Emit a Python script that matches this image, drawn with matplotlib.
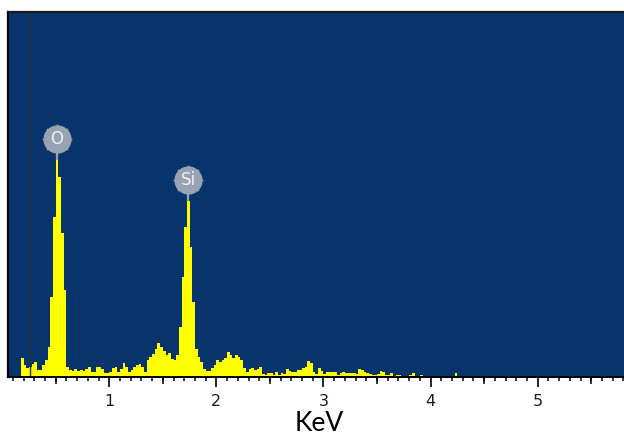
import numpy as np
import matplotlib
matplotlib.use("Agg")
import matplotlib.pyplot as plt
from matplotlib.path import Path
from matplotlib.ticker import MultipleLocator, FixedLocator, NullFormatter

# ---------------- data ----------------
bin_start_kev = 0.175
bin_width_kev = 0.025
counts = [
    19, 12, 9, 10, 13, 15, 7, 7, 12, 17,
    30, 80, 160, 217, 200, 144, 87, 10, 7, 6,
    8, 6, 7, 6, 8, 10, 5, 5, 10, 10,
    8, 4, 4, 5, 9, 10, 5, 8, 14, 10,
    5, 7, 10, 12, 13, 10, 5, 17, 20, 23,
    28, 34, 30, 26, 22, 24, 18, 17, 22, 50,
    100, 150, 176, 130, 75, 28, 20, 15, 8, 6,
    6, 9, 12, 17, 15, 17, 19, 25, 22, 19,
    22, 20, 17, 9, 5, 8, 9, 7, 8, 10,
    3, 2, 4, 4, 2, 5, 2, 4, 3, 8,
    6, 5, 5, 7, 7, 9, 10, 16, 14, 5,
    3, 9, 6, 3, 5, 5, 5, 5, 2, 4,
    5, 4, 4, 4, 4, 3, 8, 7, 5, 4,
    3, 2, 2, 3, 6, 5, 2, 2, 4, 1,
    2, 2, 1, 1, 1, 2, 4, 1, 1, 2,
    1, 1, 1, 1, 1, 1, 1, 1, 1, 0,
    1, 1, 4, 1, 0, 0, 1, 1, 0, 1,
    1, 0, 0, 0, 0, 0, 1, 1, 0, 1,
    1, 0, 0, 0, 1, 0, 1, 1, 1, 0,
]
element_labels = ["O", "Si"]
element_energies = [0.525, 1.740]
major_ticks = [1, 2, 3, 4, 5]
tick_labels = ["1", "2", "3", "4", "5"]
marker_line_kev = 0.255
x_label = "KeV"

# ---------------- style ----------------
BG = "#07346A"
YELLOW = "#FFFF00"
BADGE = "#99A2B2"
W, H = 624, 437

fig = plt.figure(figsize=(W / 100, H / 100), dpi=100)
fig.patch.set_facecolor("white")
ax = fig.add_axes([8 / W, 60 / H, 1 - 8 / W, 365 / H])
ax.set_facecolor(BG)

counts_arr = np.asarray(counts, dtype=float)
edges = bin_start_kev + bin_width_kev * np.arange(len(counts_arr) + 1)
ax.stairs(counts_arr, edges, fill=True, color=YELLOW, linewidth=0)

ax.axvline(marker_line_kev, color="#26303e", lw=1.0, zorder=1)

ax.set_xlim((8 - 2.2) / 107.1, (624 - 2.2) / 107.1)
ax.set_ylim(0, 365)

# round badge with small, subtle teeth
theta = np.linspace(0, 2 * np.pi, 1441)
ang = np.degrees(theta) % 45.0
tooth = (ang < 3.0) | (ang > 42.0)
r = np.where(tooth, 1.06, 1.0)
gear = Path(np.column_stack([r * np.sin(theta), r * np.cos(theta)]), closed=False)

centers = 0.5 * (edges[:-1] + edges[1:])
for lab, en in zip(element_labels, element_energies):
    win = np.where(np.abs(centers - en) < 0.06)[0]
    idx = win[np.argmax(counts_arr[win])]
    xc = centers[idx]
    yt = counts_arr[idx]
    ax.plot([xc, xc], [yt, yt + 8], color=BADGE, lw=1.6, zorder=3, solid_capstyle="butt")
    ax.plot([xc], [yt + 21], marker=gear, markersize=21.5, color=BADGE,
            markeredgewidth=0, zorder=4, clip_on=False)
    ax.text(xc, yt + 21, lab, ha="center", va="center", fontsize=12,
            color="#EEF2F8", zorder=5, family="DejaVu Sans")

# spines
ax.spines["right"].set_visible(False)
ax.spines["left"].set_linewidth(1.6)
ax.spines["left"].set_color("black")
ax.spines["top"].set_linewidth(1.6)
ax.spines["top"].set_color("#1a1a1a")
ax.spines["bottom"].set_linewidth(1.4)
ax.spines["bottom"].set_color("black")

ax.yaxis.set_visible(False)
ax.xaxis.set_major_locator(FixedLocator(major_ticks))
ax.set_xticklabels(tick_labels)
ax.xaxis.set_minor_locator(MultipleLocator(0.1))
ax.tick_params(axis="x", which="major", direction="out", length=7, width=1.2,
               color="black", pad=5, labelsize=11.5, labelcolor="#1b1b2a")
ax.tick_params(axis="x", which="minor", direction="out", length=3.2, width=1.1,
               color="black")

sec = ax.secondary_xaxis("bottom")
sec.xaxis.set_major_locator(FixedLocator([0.5, 1.5, 2.5, 3.5, 4.5, 5.5]))
sec.xaxis.set_major_formatter(NullFormatter())
sec.tick_params(axis="x", which="major", direction="out", length=4.8, width=1.1, color="black")
sec.xaxis.set_minor_locator(FixedLocator([]))
sec.spines["bottom"].set_visible(False)

fig.text(319 / W, 6 / H, x_label, ha="center", va="baseline", fontsize=19,
         family="Lato", color="black")

fig.savefig("out.png", dpi=100, facecolor="white")
